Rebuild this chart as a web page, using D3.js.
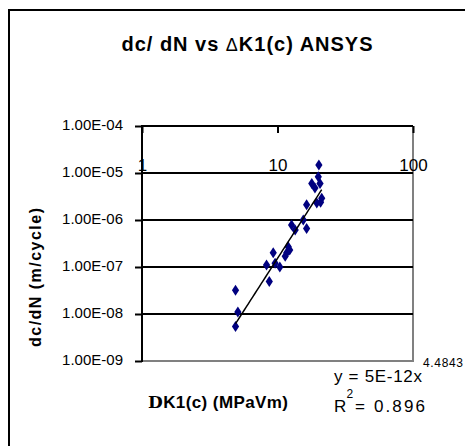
<!DOCTYPE html>
<html>
<head>
<meta charset="utf-8">
<script src="https://cdn.jsdelivr.net/npm/d3@7"></script>
<style>
  html, body { margin: 0; padding: 0; background: #fff; overflow: hidden; }
  svg { display: block; }
  text { font-family: Arial, "Liberation Sans", sans-serif; }
</style>
</head>
<body>
<svg id="canvas"></svg>
<script>
// delta K values (MPa sqrt m) and crack growth rate (m/cycle)
let dK = [4.9, 5.1, 4.9, 8.7, 8.3, 9.3, 9.6, 10.4, 11.4, 11.7, 12.0, 12.3,
          12.7, 13.5, 15.5, 16.4, 16.4, 19.5, 21.2, 18.9, 17.9, 20.6, 20.0, 20.2, 20.8];
let dcdN = [5.4e-9, 1.1e-8, 3.2e-8, 4.9e-8, 1.1e-7, 2.0e-7, 1.2e-7, 1.0e-7, 1.7e-7, 2.0e-7, 2.7e-7, 2.3e-7,
            7.8e-7, 6.1e-7, 1.0e-6, 6.6e-7, 2.1e-6, 2.3e-6, 2.9e-6, 4.8e-6, 6.0e-6, 6.0e-6, 8.3e-6, 1.48e-5, 2.4e-6];

let yTicks = [1e-9, 1e-8, 1e-7, 1e-6, 1e-5, 1e-4];
let xTicks = [1, 10, 100];

// power trendline from the chart: y = 5E-12 x^4.4843
let trendA = 5e-12;
let trendB = 4.4843;

let width = 465;
let height = 446;
let plotL = 142, plotR = 413, plotT = 126, plotB = 361;

let canvas = d3.select('#canvas');
canvas.attr('width', width);
canvas.attr('height', height);

let xScale = d3.scaleLog().domain([1, 100]).range([plotL, plotR]);
let yScale = d3.scaleLog().domain([1e-9, 1e-4]).range([plotB, plotT]);

// outer chart frame: only the top and left edges are on the page
canvas.append('path')
    .attr('d', `M9,${height + 5}V10H${width + 5}`)
    .attr('fill', 'none')
    .attr('stroke', '#000')
    .attr('stroke-width', 2);

// title
let title = canvas.append('text')
    .attr('x', 247).attr('y', 51)
    .attr('text-anchor', 'middle')
    .attr('font-size', 20)
    .attr('font-weight', 'bold')
    .attr('textLength', 251);
title.append('tspan').text('dc/ dN vs  ');
title.append('tspan').attr('font-weight', 'normal').attr('font-size', 18).text('\u0394');
title.append('tspan').text('K1(c) ANSYS');

// plot area border (grey right/bottom)
canvas.append('path')
    .attr('d', `M${plotL},${plotB}H${plotR}V${plotT}`)
    .attr('fill', 'none')
    .attr('stroke', '#808080')
    .attr('stroke-width', 2);

// gridlines
canvas.append('g')
    .selectAll('line')
    .data(yTicks.slice(1))
    .enter()
    .append('line')
    .attr('x1', plotL).attr('x2', plotR)
    .attr('y1', d => yScale(d)).attr('y2', d => yScale(d))
    .attr('stroke', '#000')
    .attr('stroke-width', 2);

// y axis
let yAxis = d3.axisLeft(yScale)
    .tickValues(yTicks)
    .tickSize(7)
    .tickPadding(12)
    .tickFormat(d => {
        let e = Math.round(Math.log10(d));
        return '1.00E-' + String(-e).padStart(2, '0');
    });
let gy = canvas.append('g')
    .attr('transform', 'translate(' + plotL + ',0)')
    .call(yAxis);
gy.select('.domain').remove();
gy.selectAll('line').attr('stroke', '#000').attr('stroke-width', 2);
gy.selectAll('text').attr('font-size', 15).attr('font-family', 'Arial, "Liberation Sans", sans-serif').attr('fill', '#000').attr('dy', '0.2em');
canvas.append('line')
    .attr('x1', plotL).attr('x2', plotL)
    .attr('y1', plotT - 1).attr('y2', plotB + 1)
    .attr('stroke', '#000').attr('stroke-width', 2);

// x axis along the top, labels hang down inside the plot
let xAxis = d3.axisBottom(xScale)
    .tickValues(xTicks)
    .tickSize(7)
    .tickPadding(26)
    .tickFormat(d3.format('d'));
let gx = canvas.append('g')
    .attr('transform', 'translate(0,' + plotT + ')')
    .call(xAxis);
gx.select('.domain').remove();
gx.selectAll('line').attr('stroke', '#000').attr('stroke-width', 2);
gx.selectAll('text').attr('font-size', 17).attr('font-family', 'Arial, "Liberation Sans", sans-serif').attr('fill', '#000');

// data points (diamonds)
canvas.append('g')
    .selectAll('path')
    .data(dK.map((k, i) => [k, dcdN[i]]))
    .enter()
    .append('path')
    .attr('d', 'M0,-5.5L3.6,0L0,5.5L-3.6,0Z')
    .attr('transform', d => 'translate(' + xScale(d[0]) + ',' + yScale(d[1]) + ')')
    .attr('fill', '#000080');

// trendline
let kMin = d3.min(dK), kMax = d3.max(dK);
let trendPts = d3.range(0, 41).map(i => {
    let k = kMin * Math.pow(kMax / kMin, i / 40);
    return [k, trendA * Math.pow(k, trendB)];
});
canvas.append('path')
    .datum(trendPts)
    .attr('d', d3.line().x(d => xScale(d[0])).y(d => yScale(d[1])))
    .attr('fill', 'none')
    .attr('stroke', '#000')
    .attr('stroke-width', 1.5);

// axis titles
canvas.append('text')
    .attr('transform', 'translate(41,277.5) rotate(-90)')
    .attr('text-anchor', 'middle')
    .attr('font-size', 16)
    .attr('font-weight', 'bold')
    .attr('textLength', 139)
    .text('dc/dN (m/cycle)');

let xl = canvas.append('text')
    .attr('x', 148).attr('y', 408)
    .attr('font-size', 17)
    .attr('font-weight', 'bold')
    .attr('textLength', 140);
xl.append('tspan').attr('font-family', '"DejaVu Serif", serif').text('D');
xl.append('tspan').text('K1(c) (MPaVm)');

// trendline equation
canvas.append('text')
    .attr('x', 334).attr('y', 382)
    .attr('font-size', 17)
    .attr('textLength', 88)
    .text('y = 5E-12x');
canvas.append('text')
    .attr('x', 423).attr('y', 367)
    .attr('font-size', 12)
    .attr('textLength', 40)
    .text('4.4843');

canvas.append('text')
    .attr('x', 334).attr('y', 412)
    .attr('font-size', 17)
    .text('R');
canvas.append('text')
    .attr('x', 346.5).attr('y', 398)
    .attr('font-size', 12)
    .text('2');
canvas.append('text')
    .attr('x', 355).attr('y', 412)
    .attr('font-size', 17)
    .attr('textLength', 70)
    .text('= 0.896');
</script>
</body>
</html>
